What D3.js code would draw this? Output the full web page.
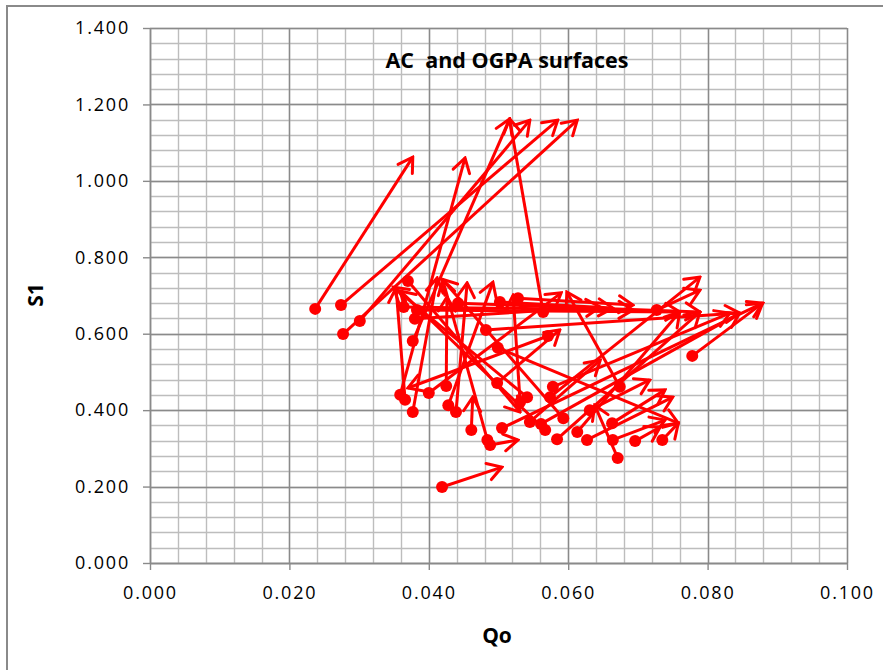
<!DOCTYPE html>
<html>
<head>
<meta charset="utf-8">
<script src="https://cdn.jsdelivr.net/npm/d3@7/dist/d3.min.js"></script>
<style>
  html, body { margin: 0; padding: 0; background: #fff; }
  svg { display: block; }
</style>
</head>
<body>
<svg id="chart" width="883" height="670"></svg>
<script>
// Vector plot: each arrow runs from a measured point (dot) to its later state (head).
const startQo = [0.0237,0.0274,0.0277,0.0301,0.0377,0.0564,0.0359,0.0366,0.0370,0.0364,0.0383,0.0380,0.0377,0.0574,0.0442,0.0502,0.0528,0.0482,0.0499,0.0505,0.0561,0.0778,0.0584,0.0613,0.0578,0.0419,0.0627,0.0696,0.0664,0.0484,0.0541,0.0439,0.0428,0.0425,0.0531,0.0674,0.0571,0.0671,0.0498,0.0461,0.0545,0.0631,0.0663,0.0727,0.0400,0.0488,0.0735,0.0567,0.0593];
const startS1 = [0.665,0.675,0.599,0.633,0.581,0.657,0.440,0.427,0.738,0.670,0.662,0.639,0.395,0.434,0.680,0.683,0.693,0.610,0.563,0.353,0.364,0.542,0.324,0.343,0.461,0.199,0.322,0.319,0.322,0.322,0.434,0.395,0.413,0.463,0.421,0.461,0.594,0.275,0.471,0.348,0.369,0.400,0.366,0.662,0.445,0.309,0.322,0.348,0.379];
const endQo = [0.0377,0.0585,0.0613,0.0545,0.0516,0.0516,0.0452,0.0353,0.0531,0.0693,0.0760,0.0646,0.0412,0.0789,0.0789,0.0664,0.0693,0.0846,0.0758,0.0879,0.0846,0.0879,0.0789,0.0760,0.0832,0.0505,0.0750,0.0732,0.0739,0.0420,0.0349,0.0455,0.0492,0.0426,0.0521,0.0598,0.0370,0.0638,0.0588,0.0463,0.0646,0.0717,0.0739,0.0789,0.0590,0.0528,0.0758,0.0359,0.0419];
const endS1 = [1.062,1.159,1.159,1.159,1.162,1.162,1.060,0.720,0.395,0.662,0.657,0.670,0.746,0.748,0.657,0.667,0.675,0.654,0.366,0.680,0.654,0.680,0.657,0.657,0.654,0.251,0.434,0.356,0.374,0.741,0.722,0.733,0.735,0.696,0.701,0.709,0.458,0.413,0.610,0.434,0.531,0.479,0.453,0.714,0.707,0.322,0.366,0.712,0.743];

const xMajorTicks = [0, 0.02, 0.04, 0.06, 0.08, 0.10];
const yMajorTicks = [0, 0.2, 0.4, 0.6, 0.8, 1.0, 1.2, 1.4];
const xMinorStep = 0.004;
const yMinorStep = 0.04;

const chartTitle = "AC  and OGPA surfaces";
const xTitle = "Qo";
const yTitle = "S1";

const svg = d3.select("#chart");
const plotLeft = 150, plotRight = 847, plotTop = 28, plotBottom = 563;

const x = d3.scaleLinear().domain([0, 0.1]).range([plotLeft, plotRight]);
const y = d3.scaleLinear().domain([0, 1.4]).range([plotBottom, plotTop]);

// outer chart frame
svg.append("rect")
  .attr("x", 7).attr("y", 6).attr("width", 920).attr("height", 720)
  .attr("fill", "#fff").attr("stroke", "#8a8a8a").attr("stroke-width", 2);

// minor grid
const xMinor = d3.range(0, 0.1 + 1e-9, xMinorStep);
const yMinor = d3.range(0, 1.4 + 1e-9, yMinorStep);
const grid = svg.append("g");
grid.selectAll(".vx").data(xMinor).join("line")
  .attr("x1", d => Math.round(x(d)) + 0.5).attr("x2", d => Math.round(x(d)) + 0.5)
  .attr("y1", plotTop).attr("y2", plotBottom)
  .attr("stroke", "#bdbdbd").attr("stroke-width", 1.4);
grid.selectAll(".hy").data(yMinor).join("line")
  .attr("y1", d => Math.round(y(d)) + 0.5).attr("y2", d => Math.round(y(d)) + 0.5)
  .attr("x1", plotLeft).attr("x2", plotRight)
  .attr("stroke", "#bdbdbd").attr("stroke-width", 1.4);

// major grid
grid.selectAll(".mx").data(xMajorTicks).join("line")
  .attr("x1", d => Math.round(x(d)) + 0.5).attr("x2", d => Math.round(x(d)) + 0.5)
  .attr("y1", plotTop).attr("y2", plotBottom)
  .attr("stroke", "#8a8a8a").attr("stroke-width", 1.4);
grid.selectAll(".my").data(yMajorTicks).join("line")
  .attr("y1", d => Math.round(y(d)) + 0.5).attr("y2", d => Math.round(y(d)) + 0.5)
  .attr("x1", plotLeft).attr("x2", plotRight)
  .attr("stroke", "#8a8a8a").attr("stroke-width", 1.4);

// axes
const fmt = d3.format(".3f");
const xAxis = svg.append("g").attr("transform", `translate(0,${plotBottom})`)
  .call(d3.axisBottom(x).tickValues(xMajorTicks).tickFormat(fmt).tickSize(7).tickSizeOuter(0));
const yAxis = svg.append("g").attr("transform", `translate(${plotLeft},0)`)
  .call(d3.axisLeft(y).tickValues(yMajorTicks).tickFormat(fmt).tickSize(7).tickSizeOuter(0));
[xAxis, yAxis].forEach(a => {
  a.attr("font-size", null).attr("font-family", null);
  a.select(".domain").attr("stroke", "#8a8a8a").attr("stroke-width", 1.4);
  a.selectAll(".tick line").attr("stroke", "#8a8a8a").attr("stroke-width", 1.4);
  a.selectAll(".tick text")
    .attr("fill", "#000")
    .style("font-family", "'Open Sans', 'DejaVu Sans', sans-serif")
    .style("font-size", "18px")
    .style("letter-spacing", "1.8px");
});
xAxis.selectAll(".tick text").attr("dy", "1.45em");
yAxis.selectAll(".tick text").attr("x", -20);

// titles
svg.append("text")
  .attr("x", 507).attr("y", 68).attr("text-anchor", "middle")
  .style("white-space", "pre")
  .style("font-family", "'Open Sans', sans-serif").style("font-weight", "bold").style("font-size", "21.5px")
  .attr("fill", "#000").text(chartTitle);
svg.append("text")
  .attr("x", 497).attr("y", 643).attr("text-anchor", "middle")
  .style("font-family", "'Open Sans', sans-serif").style("font-weight", "bold").style("font-size", "21px")
  .attr("fill", "#000").text(xTitle);
svg.append("text")
  .attr("transform", "translate(43,295) rotate(-90)").attr("text-anchor", "middle")
  .style("font-family", "'Open Sans', sans-serif").style("font-weight", "bold").style("font-size", "21px")
  .attr("fill", "#000").text(yTitle);

// open arrowhead
svg.append("defs").append("marker")
  .attr("id", "head").attr("markerUnits", "userSpaceOnUse")
  .attr("viewBox", "-17 -11 19 22").attr("refX", 0).attr("refY", 0)
  .attr("markerWidth", 19).attr("markerHeight", 22).attr("orient", "auto")
  .append("path").attr("d", "M-14,-8.5 L0,0 L-14,8.5")
  .attr("fill", "none").attr("stroke", "#ff0000").attr("stroke-width", 3)
  .attr("stroke-linecap", "round").attr("stroke-linejoin", "miter");

const arrows = startQo.map((q, i) => ({ q0: q, s0: startS1[i], q1: endQo[i], s1: endS1[i] }));
const marks = svg.append("g");
marks.selectAll("line.arrow").data(arrows).join("line")
  .attr("class", "arrow")
  .attr("x1", d => x(d.q0)).attr("y1", d => y(d.s0))
  .attr("x2", d => x(d.q1)).attr("y2", d => y(d.s1))
  .attr("stroke", "#ff0000").attr("stroke-width", 3)
  .attr("marker-end", "url(#head)");
marks.selectAll("circle").data(arrows).join("circle")
  .attr("cx", d => x(d.q0)).attr("cy", d => y(d.s0)).attr("r", 6)
  .attr("fill", "#ff0000");
</script>
</body>
</html>
